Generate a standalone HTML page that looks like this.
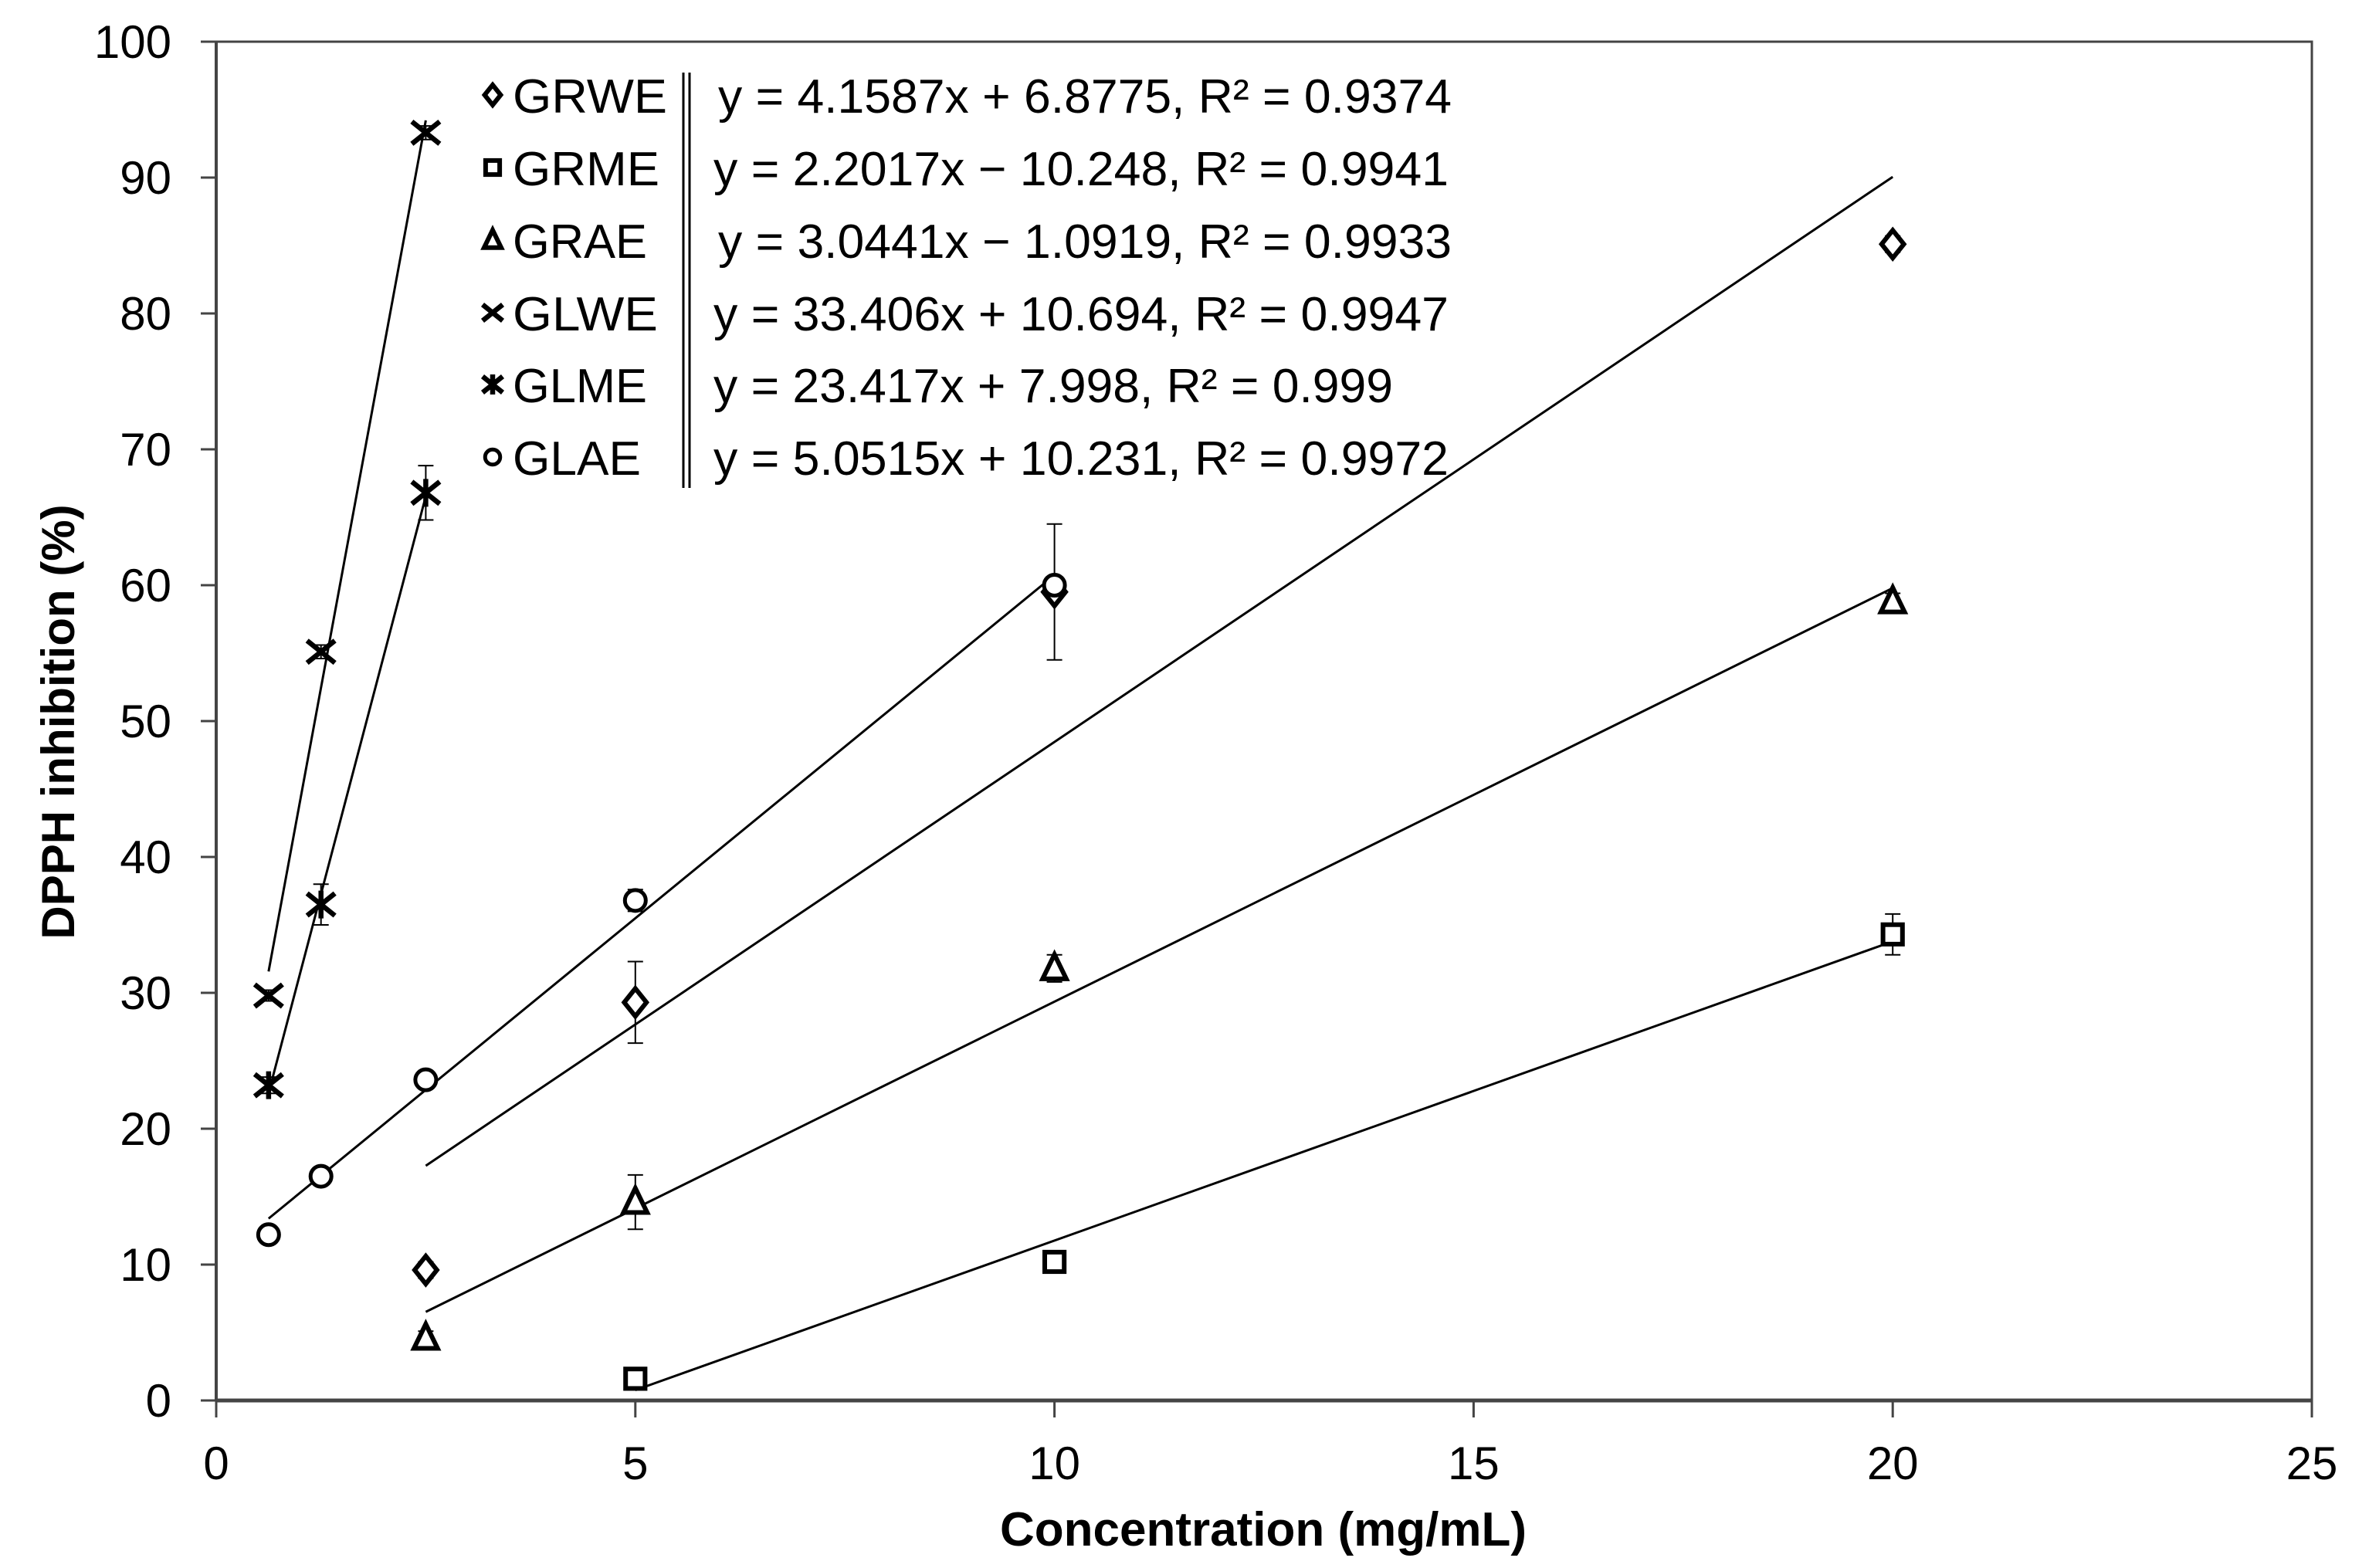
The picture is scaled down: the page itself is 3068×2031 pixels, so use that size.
<!DOCTYPE html>
<html><head><meta charset="utf-8"><style>
html,body{margin:0;padding:0;background:#fff;}
svg{display:block;font-family:"Liberation Sans",Arial,sans-serif;}
</style></head><body>
<svg id="chart" width="3068" height="2031" viewBox="0 0 3068 2031" xmlns="http://www.w3.org/2000/svg">
<rect width="3068" height="2031" fill="#fff"/>
<g id="axes"></g>
<g id="fits"></g>
<g id="errs"></g>
<g id="marks"></g>
<g id="legend"></g>
<text transform="translate(80,935) rotate(-90)" text-anchor="middle" font-size="60" font-weight="bold" dominant-baseline="middle">DPPH inhibition (%)</text>
<text x="1636" y="2002" text-anchor="middle" font-size="62" font-weight="bold">Concentration (mg/mL)</text>
</svg>
<script>
const xTicks=[0,5,10,15,20,25];
const yTicks=[0,10,20,30,40,50,60,70,80,90,100];
const seriesNames=["GRWE","GRME","GRAE","GLWE","GLME","GLAE"];
const markerTypes=["diamond","square","triangle","x","star","circle"];
const grweX=[2.5,5,10,20], grweY=[9.6,29.3,59.5,85.1], grweE=[0.6,3.0,5.0,0.6];
const grmeX=[5,10,20], grmeY=[1.6,10.2,34.3], grmeE=[0.6,0.8,1.5];
const graeX=[2.5,5,10,20], graeY=[4.6,14.6,31.8,58.8], graeE=[0.5,2.0,1.0,0.6];
const glweX=[0.625,1.25,2.5], glweY=[29.8,55.1,93.3], glweE=[0.4,0.5,0.5];
const glmeX=[0.625,1.25,2.5], glmeY=[23.2,36.5,66.8], glmeE=[0.6,1.5,2.0];
const glaeX=[0.625,1.25,2.5,5,10], glaeY=[12.2,16.5,23.6,36.8,60.0], glaeE=[0.3,0.4,0.5,0.8,0.6];
const slopes=[4.1587,2.2017,3.0441,33.406,23.417,5.0515];
const intercepts=[6.8775,-10.248,-1.0919,10.694,7.998,10.231];
const equations=["y = 4.1587x + 6.8775, R² = 0.9374","y = 2.2017x − 10.248, R² = 0.9941","y = 3.0441x − 1.0919, R² = 0.9933","y = 33.406x + 10.694, R² = 0.9947","y = 23.417x + 7.998, R² = 0.999","y = 5.0515x + 10.231, R² = 0.9972"];

const X0=280,X1=2994,Y0=1814,Y1=54;
const sx=v=>X0+(v-0)/(25-0)*(X1-X0);
const sy=v=>Y0-(v-0)/(100-0)*(Y0-Y1);
const NS="http://www.w3.org/2000/svg";
function mk(tag,attrs,parent){const e=document.createElementNS(NS,tag);for(const k in attrs)e.setAttribute(k,attrs[k]);parent.appendChild(e);return e;}
const axes=document.getElementById('axes');
let e;
e=mk('rect',{x:X0,y:Y1,width:X1-X0,height:Y0-Y1,fill:'none',stroke:'#444','stroke-width':3},axes);


e=mk('line',{x1:X0,y1:Y0,x2:X1,y2:Y0,stroke:'#444','stroke-width':5},axes);


e=mk('line',{x1:X0,y1:Y1,x2:X0,y2:Y0,stroke:'#444','stroke-width':4},axes);


xTicks.forEach(t=>{
 e=mk('line',{x1:sx(t),y1:Y0,x2:sx(t),y2:Y0+22,stroke:'#444','stroke-width':3},axes);
 
 
 e=mk('text',{x:sx(t),y:Y0+102,'text-anchor':'middle','font-size':60},axes);e.textContent=t;
 
 
});
yTicks.forEach(t=>{
 e=mk('line',{x1:X0-20,y1:sy(t),x2:X0,y2:sy(t),stroke:'#444','stroke-width':3},axes);
 
 
 e=mk('text',{x:222,y:sy(t)+21,'text-anchor':'end','font-size':60},axes);e.textContent=t;
 
 
});
const allX=[grweX,grmeX,graeX,glweX,glmeX,glaeX],allY=[grweY,grmeY,graeY,glweY,glmeY,glaeY],allE=[grweE,grmeE,graeE,glweE,glmeE,glaeE];
function marker(type,cx,cy,parent,s){
 s=s||18;let g;
 if(type==='diamond')g=mk('polygon',{points:`${cx},${cy-s} ${cx+s*0.8},${cy} ${cx},${cy+s} ${cx-s*0.8},${cy}`,fill:'#fff',stroke:'#000','stroke-width':6},parent);
 else if(type==='square')g=mk('rect',{x:cx-s*0.7,y:cy-s*0.7,width:s*1.4,height:s*1.4,fill:'#fff',stroke:'#000','stroke-width':6},parent);
 else if(type==='triangle')g=mk('polygon',{points:`${cx},${cy-s} ${cx+s*0.85},${cy+s*0.75} ${cx-s*0.85},${cy+s*0.75}`,fill:'#fff',stroke:'#000','stroke-width':6},parent);
 else if(type==='circle')g=mk('circle',{cx:cx,cy:cy,r:s*0.75,fill:'#fff',stroke:'#000','stroke-width':5},parent);
 else if(type==='x')g=mk('path',{d:`M${cx-s},${cy-s*0.8}L${cx+s},${cy+s*0.8}M${cx+s},${cy-s*0.8}L${cx-s},${cy+s*0.8}`,stroke:'#000','stroke-width':6.5,fill:'none'},parent);
 else g=mk('path',{d:`M${cx-s},${cy-s*0.8}L${cx+s},${cy+s*0.8}M${cx+s},${cy-s*0.8}L${cx-s},${cy+s*0.8}M${cx},${cy-s}L${cx},${cy+s}`,stroke:'#000','stroke-width':6.5,fill:'none'},parent);
 return g;
}
const fits=document.getElementById('fits'),errs=document.getElementById('errs'),marks=document.getElementById('marks');
seriesNames.forEach((n,i)=>{
 const xs=allX[i],ys=allY[i],es=allE[i];
 const xa=Math.min(...xs),xb=Math.max(...xs);
 e=mk('line',{x1:sx(xa),y1:sy(slopes[i]*xa+intercepts[i]),x2:sx(xb),y2:sy(slopes[i]*xb+intercepts[i]),stroke:'#000','stroke-width':3},fits);
 
 
 xs.forEach((x,j)=>{
  const cx=sx(x),t=sy(ys[j]+es[j]),b=sy(ys[j]-es[j]);
  e=mk('path',{d:`M${cx},${t}L${cx},${b}M${cx-10},${t}L${cx+10},${t}M${cx-10},${b}L${cx+10},${b}`,stroke:'#000','stroke-width':2,fill:'none'},errs);
  
  
  e=marker(markerTypes[i],cx,sy(ys[j]),marks);
  
  
 });
});
const leg=document.getElementById('legend');
const rowY=[123,217,311,405,498,592];
seriesNames.forEach((n,i)=>{
 e=marker(markerTypes[i],638,rowY[i],leg,13);
 
 
 e=mk('text',{x:664,y:rowY[i]+23,'font-size':62,textLength:[200,190,174,188,174,166][i],lengthAdjust:'spacingAndGlyphs'},leg);e.textContent=n;
 
 
 e=mk('text',{x:[930,924,930,924,924,924][i],y:rowY[i]+23,'font-size':62,textLength:[950,952,950,952,880,952][i],lengthAdjust:'spacingAndGlyphs'},leg);e.textContent=equations[i];
 
 
});
e=mk('path',{d:'M885,94L885,632M893,94L893,632',stroke:'#000','stroke-width':3},leg);


</script>
</body></html>
